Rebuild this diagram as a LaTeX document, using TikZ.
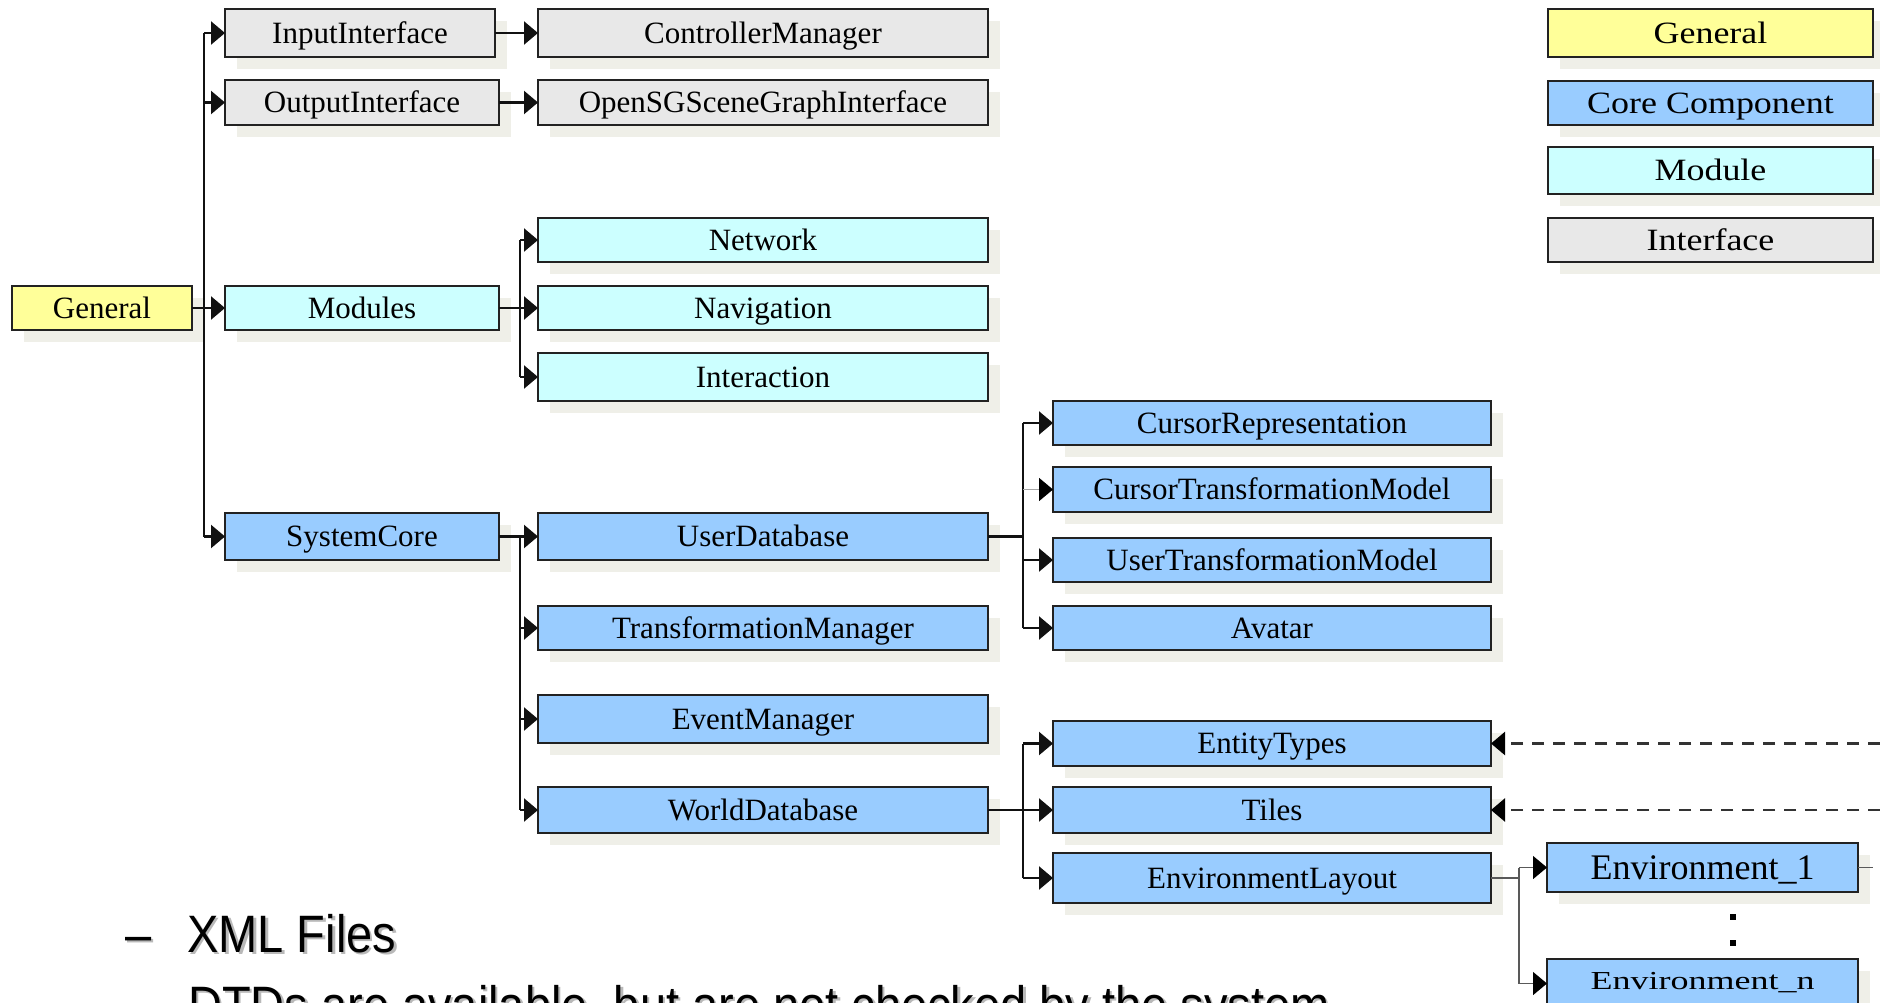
\documentclass[tikz,border=0pt]{standalone}
\usepackage{fontspec}
\setmainfont{Liberation Serif}
\newfontfamily\sansf{Liberation Sans}
\usetikzlibrary{arrows.meta}
\definecolor{yellowc}{HTML}{FFFF99}
\definecolor{bluec}{HTML}{99CCFF}
\definecolor{cyanc}{HTML}{CCFFFF}
\definecolor{greyc}{HTML}{E8E8E8}
\definecolor{shadowc}{HTML}{EFEFE8}
\definecolor{borderc}{HTML}{222222}
\definecolor{linec}{HTML}{111111}
\definecolor{dashc}{HTML}{333333}
\tikzset{
  bx/.style={draw=borderc, line width=1.8pt, inner sep=0pt, outer sep=0pt,
    text height=20.5pt, text depth=0pt, font=\fontsize{31}{36}\selectfont},
  envfont/.style={font=\fontsize{36}{40}\selectfont, text height=23.8pt},
  ln/.style={draw=linec, line width=2.3pt},
  arr/.style={ln, -{Triangle[length=14pt,width=23pt]}},
  lightarr/.style={draw=gray!70, line width=1.6pt, -{Triangle[length=14pt,width=23pt,color=black]}},
  thinln/.style={draw=gray!70!black, line width=1.4pt},
  thinarr/.style={thinln, -{Triangle[length=14pt,width=23pt,color=black]}},
  dasharr/.style={draw=dashc, line width=2.5pt, dash pattern=on 12pt off 9pt, -{Triangle[length=14pt,width=23pt,color=black]}},
  bigtxt/.style={inner sep=0pt, anchor=base west, font=\sansf\fontsize{47}{52}\selectfont},
}
% optional extra style; name, x1, y1, x2, y2, fill, text
\newcommand\mybox[8][]{%
  \fill[shadowc] (#3+12,-#4-12) rectangle (#5+12,-#6-12);
  \node[bx,#1,fill=#7,minimum width={#5-#3},minimum height={#6-#4}] (#2) at ({(#3+#5)/2},{-(#4+#6)/2}) {#8};
}
\newcommand\legtext[1]{\scalebox{1.16}[1]{#1}}
\begin{document}
\begin{tikzpicture}[x=1pt,y=1pt]
\useasboundingbox (0,0) rectangle (1880,-1002);
\clip (0,0) rectangle (1880,-1002);
\fill[white] (0,0) rectangle (1880,-1002);

% column 1
\mybox{General}{12}{286}{192}{330}{yellowc}{General}
% column 2
\mybox{InputInterface}{225}{9}{495}{57}{greyc}{InputInterface}
\mybox{OutputInterface}{225}{80}{499}{125}{greyc}{OutputInterface}
\mybox{Modules}{225}{286}{499}{330}{cyanc}{Modules}
\mybox{SystemCore}{225}{513}{499}{560}{bluec}{SystemCore}
% column 3
\mybox{ControllerManager}{538}{9}{988}{57}{greyc}{ControllerManager}
\mybox{OpenSG}{538}{80}{988}{125}{greyc}{OpenSGSceneGraphInterface}
\mybox{Network}{538}{218}{988}{262}{cyanc}{Network}
\mybox{Navigation}{538}{286}{988}{330}{cyanc}{Navigation}
\mybox{Interaction}{538}{353}{988}{401}{cyanc}{Interaction}
\mybox{UserDatabase}{538}{513}{988}{560}{bluec}{UserDatabase}
\mybox{TransformationManager}{538}{606}{988}{650}{bluec}{TransformationManager}
\mybox{EventManager}{538}{695}{988}{743}{bluec}{EventManager}
\mybox{WorldDatabase}{538}{787}{988}{833}{bluec}{WorldDatabase}
% column 4
\mybox{CursorRepresentation}{1053}{401}{1491}{445}{bluec}{CursorRepresentation}
\mybox{CursorTransformationModel}{1053}{467}{1491}{512}{bluec}{CursorTransformationModel}
\mybox{UserTransformationModel}{1053}{538}{1491}{582}{bluec}{UserTransformationModel}
\mybox{Avatar}{1053}{606}{1491}{650}{bluec}{Avatar}
\mybox{EntityTypes}{1053}{721}{1491}{766}{bluec}{EntityTypes}
\mybox{Tiles}{1053}{787}{1491}{833}{bluec}{Tiles}
\mybox{EnvironmentLayout}{1053}{853}{1491}{903}{bluec}{EnvironmentLayout}
% column 5
\mybox[envfont]{EnvOne}{1547}{843}{1858}{892}{bluec}{Environment\_1}
\mybox[envfont]{EnvN}{1547}{959}{1858}{1008}{bluec}{\raisebox{6pt}{\scalebox{1}[0.72]{Environment\_n}}}
\fill[black] (1730,-914) rectangle (1736,-920);
\fill[black] (1730,-940) rectangle (1736,-946);
% legend
\mybox{LegGeneral}{1548}{9}{1873}{57}{yellowc}{\legtext{General}}
\mybox{LegCore}{1548}{81}{1873}{125}{bluec}{\legtext{Core Component}}
\mybox{LegModule}{1548}{147}{1873}{194}{cyanc}{\legtext{Module}}
\mybox{LegInterface}{1548}{218}{1873}{262}{greyc}{\legtext{Interface}}

% junction coordinates
\coordinate (jGen) at (204,-308);
\coordinate (jMod) at (520,-308);
\coordinate (jSys) at (520,-536.5);
\coordinate (jUser) at (1023,-536.5);
\coordinate (jWorld) at (1023,-810);
\coordinate (jEnv) at (1519,-878);
\coordinate (rEdgeA) at (1880,-743.5);
\coordinate (rEdgeB) at (1880,-810);
\coordinate (stubEnd) at (1873,-867.5);

% General tree
\draw[ln] (General.east) -- (jGen);
\draw[ln] (jGen |- InputInterface.west) -- (jGen |- SystemCore.west);
\draw[arr] (jGen |- InputInterface.west) -- (InputInterface.west);
\draw[arr] (jGen |- OutputInterface.west) -- (OutputInterface.west);
\draw[arr] (jGen) -- (Modules.west);
\draw[arr] (jGen |- SystemCore.west) -- (SystemCore.west);
% interfaces
\draw[arr] (InputInterface.east) -- (InputInterface.east -| ControllerManager.west);
\draw[arr] (OutputInterface.east) -- (OutputInterface.east -| OpenSG.west);
% modules
\draw[ln] (Modules.east) -- (jMod);
\draw[ln] (jMod |- Network.west) -- (jMod |- Interaction.west);
\draw[arr] (jMod |- Network.west) -- (Network.west);
\draw[arr] (jMod) -- (Navigation.west);
\draw[arr] (jMod |- Interaction.west) -- (Interaction.west);
% system core
\draw[ln] (SystemCore.east) -- (jSys);
\draw[ln] (jSys) -- (jSys |- WorldDatabase.west);
\draw[arr] (jSys) -- (UserDatabase.west);
\draw[arr] (jSys |- TransformationManager.west) -- (TransformationManager.west);
\draw[arr] (jSys |- EventManager.west) -- (EventManager.west);
\draw[arr] (jSys |- WorldDatabase.west) -- (WorldDatabase.west);
% user database
\draw[ln] (UserDatabase.east) -- (jUser);
\draw[ln] (jUser |- CursorRepresentation.west) -- (jUser |- Avatar.west);
\draw[arr] (jUser |- CursorRepresentation.west) -- (CursorRepresentation.west);
\draw[lightarr] (jUser |- CursorTransformationModel.west) -- (CursorTransformationModel.west);
\draw[arr] (jUser |- UserTransformationModel.west) -- (UserTransformationModel.west);
\draw[arr] (jUser |- Avatar.west) -- (Avatar.west);
% world database
\draw[ln] (WorldDatabase.east) -- (jWorld);
\draw[ln] (jWorld |- EntityTypes.west) -- (jWorld |- EnvironmentLayout.west);
\draw[arr] (jWorld |- EntityTypes.west) -- (EntityTypes.west);
\draw[arr] (jWorld) -- (Tiles.west);
\draw[arr] (jWorld |- EnvironmentLayout.west) -- (EnvironmentLayout.west);
% environment layout
\draw[thinln] (EnvironmentLayout.east) -- (jEnv);
\draw[thinln] (jEnv |- EnvOne.west) -- (jEnv |- EnvN.west);
\draw[thinarr] (jEnv |- EnvOne.west) -- (EnvOne.west);
\draw[thinarr] (jEnv |- EnvN.west) -- (EnvN.west);
\draw[thinln] (EnvOne.east) -- (stubEnd);
% dashed references
\draw[dasharr] (rEdgeA) -- (EntityTypes.east);
\draw[dasharr] (rEdgeB) -- (Tiles.east);

% bottom text
\node[bigtxt, text=gray!55] (dashS) at (127.5,-954.5) {\scalebox{1}[1.12]{–}};
\node[bigtxt] (dashT) at (125,-952) {\scalebox{1}[1.12]{–}};
\node[bigtxt, text=gray!55] (xmlS) at (189.5,-954.5) {\scalebox{1}[1.12]{XML Files}};
\node[bigtxt] (xmlT) at (187,-952) {\scalebox{1}[1.12]{XML Files}};
\node[bigtxt, text=gray!55] (dtdS) at (190.5,-1025.5) {\scalebox{1}[1.12]{DTDs are available, but are not checked by the system}};
\node[bigtxt] (dtdT) at (188,-1023) {\scalebox{1}[1.12]{DTDs are available, but are not checked by the system}};
\end{tikzpicture}
\end{document}
